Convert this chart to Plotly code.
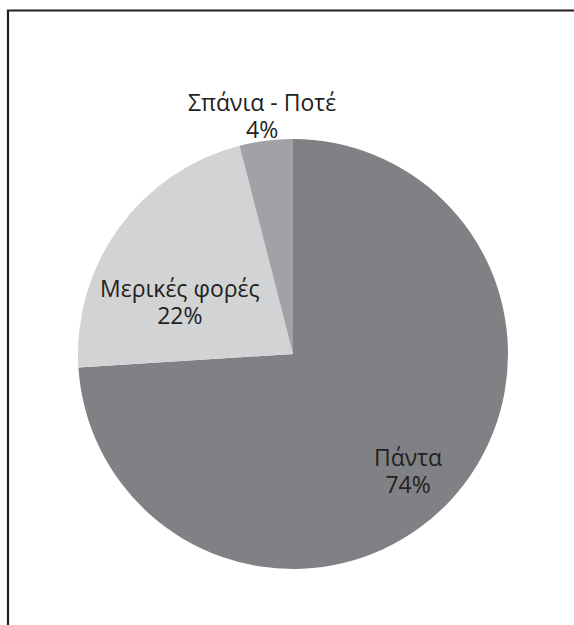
import plotly.graph_objects as go

labels = ["Πάντα", "Μερικές φορές", "Σπάνια - Ποτέ"]
values = [74, 22, 4]
colors = ["#808184", "#d1d3d4", "#a1a2a5"]
# text block centres (pixels) for each slice's label
text_px = [(408, 470), (180, 301), (262, 116)]

W, H = 574, 625
def px(x):
    return x / W
def py(y):
    return 1 - y / H

cx, cy, r = 293, 354, 215

fig = go.Figure(go.Pie(
    labels=labels, values=values, sort=False, direction="clockwise", rotation=0,
    marker=dict(colors=colors, line=dict(width=0)),
    textinfo="none", hoverinfo="label+percent", showlegend=False,
    domain=dict(x=[px(cx - r), px(cx + r)], y=[py(cy + r), py(cy - r)]),
))

# base size sets the line spacing (1.3em); spans set the glyph size
font = dict(family="Open Sans", size=20.5, color="#231f20")
sp = '<span style="font-size:23px">{}</span>'
annotations = []
for lab, v, (tx, ty) in zip(labels, values, text_px):
    annotations.append(dict(x=px(tx), y=py(ty), xref="paper", yref="paper",
                            text=sp.format(lab) + "<br>" + sp.format(f"{v}%"),
                            showarrow=False, xanchor="center", yanchor="middle",
                            align="center", font=font))

fig.update_layout(
    width=W, height=H, margin=dict(l=0, r=0, t=0, b=0),
    paper_bgcolor="white", plot_bgcolor="white",
    annotations=annotations,
    shapes=[dict(type="path", xref="paper", yref="paper",
                 path=f"M {px(8)} {py(630)} L {px(8)} {py(10.5)} L {px(580)} {py(10.5)}",
                 line=dict(color="#231f20", width=2.2))],
)
fig.write_html("out.html", config={"displayModeBar": False},
               post_script="document.body.style.margin='0';document.body.style.padding='0';")
